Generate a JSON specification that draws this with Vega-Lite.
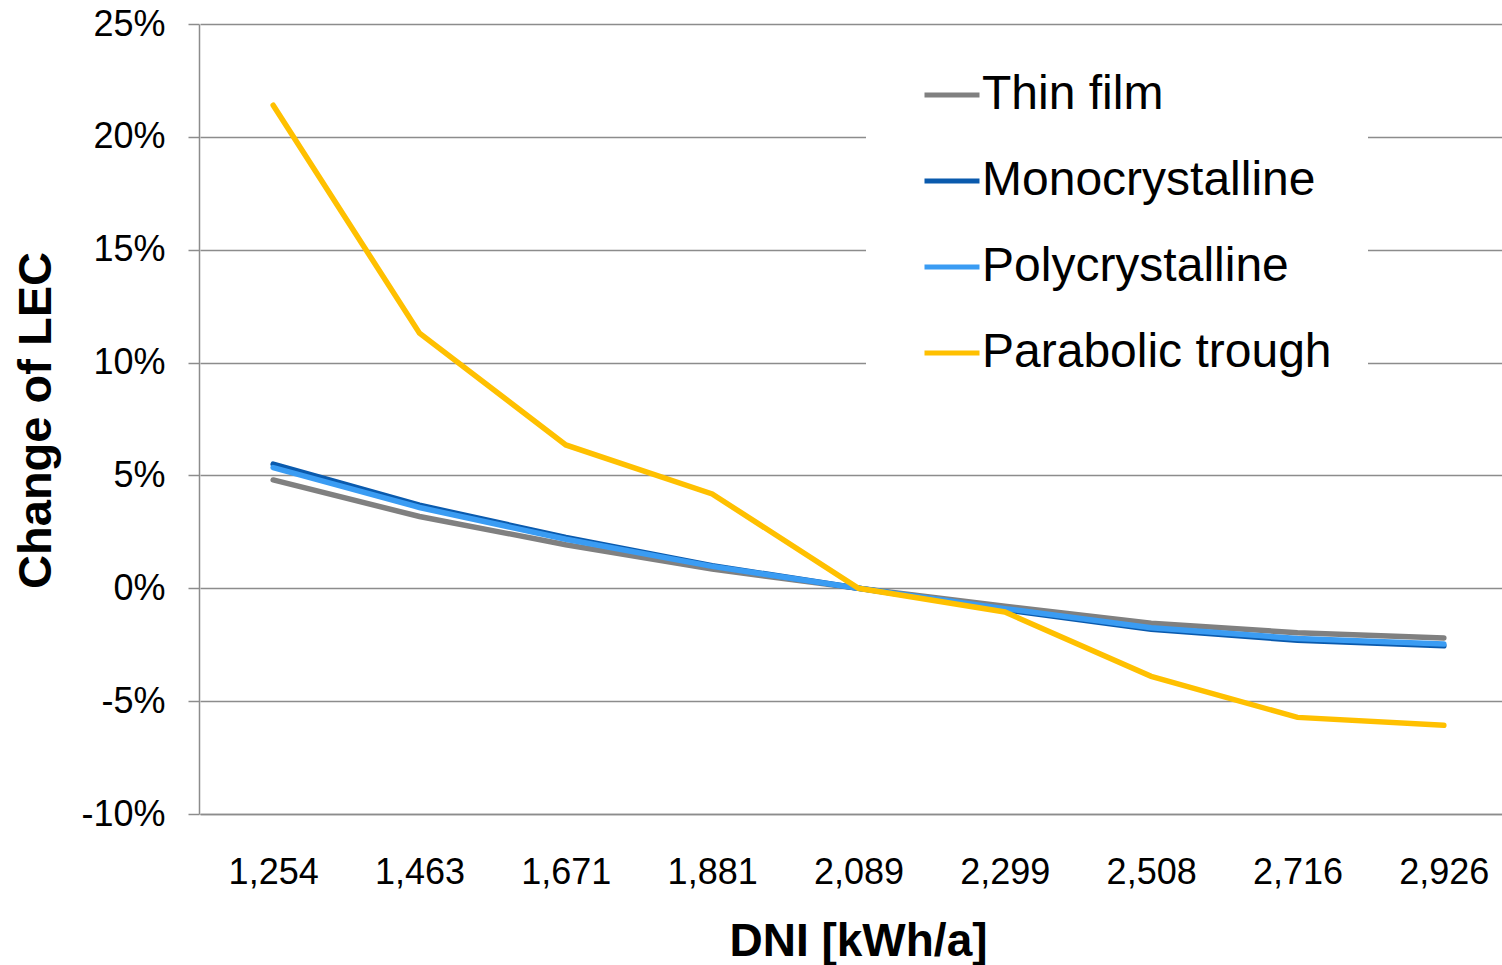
{
  "$schema": "https://vega.github.io/schema/vega-lite/v6.json",
  "autosize": {"type": "none"},
  "width": 1303,
  "height": 790,
  "padding": {"left": 199, "top": 24, "right": 0, "bottom": 151},
  "background": "white",
  "config": {
    "view": {"stroke": null},
    "font": "Liberation Sans"
  },
  "data": {
    "values": [
      {"dni": "1,254", "tech": "Thin film", "change": 0.048},
      {"dni": "1,463", "tech": "Thin film", "change": 0.0318},
      {"dni": "1,671", "tech": "Thin film", "change": 0.0193},
      {"dni": "1,881", "tech": "Thin film", "change": 0.0085},
      {"dni": "2,089", "tech": "Thin film", "change": 0.0},
      {"dni": "2,299", "tech": "Thin film", "change": -0.008},
      {"dni": "2,508", "tech": "Thin film", "change": -0.0155},
      {"dni": "2,716", "tech": "Thin film", "change": -0.0197},
      {"dni": "2,926", "tech": "Thin film", "change": -0.022},
      {"dni": "1,254", "tech": "Monocrystalline", "change": 0.055},
      {"dni": "1,463", "tech": "Monocrystalline", "change": 0.0368},
      {"dni": "1,671", "tech": "Monocrystalline", "change": 0.0225},
      {"dni": "1,881", "tech": "Monocrystalline", "change": 0.01},
      {"dni": "2,089", "tech": "Monocrystalline", "change": 0.0},
      {"dni": "2,299", "tech": "Monocrystalline", "change": -0.0095},
      {"dni": "2,508", "tech": "Monocrystalline", "change": -0.0182},
      {"dni": "2,716", "tech": "Monocrystalline", "change": -0.023},
      {"dni": "2,926", "tech": "Monocrystalline", "change": -0.0255},
      {"dni": "1,254", "tech": "Polycrystalline", "change": 0.0535},
      {"dni": "1,463", "tech": "Polycrystalline", "change": 0.0358},
      {"dni": "1,671", "tech": "Polycrystalline", "change": 0.0217},
      {"dni": "1,881", "tech": "Polycrystalline", "change": 0.0097},
      {"dni": "2,089", "tech": "Polycrystalline", "change": 0.0},
      {"dni": "2,299", "tech": "Polycrystalline", "change": -0.009},
      {"dni": "2,508", "tech": "Polycrystalline", "change": -0.0175},
      {"dni": "2,716", "tech": "Polycrystalline", "change": -0.0222},
      {"dni": "2,926", "tech": "Polycrystalline", "change": -0.0247},
      {"dni": "1,254", "tech": "Parabolic trough", "change": 0.214},
      {"dni": "1,463", "tech": "Parabolic trough", "change": 0.113},
      {"dni": "1,671", "tech": "Parabolic trough", "change": 0.0635},
      {"dni": "1,881", "tech": "Parabolic trough", "change": 0.0418},
      {"dni": "2,089", "tech": "Parabolic trough", "change": 0.0},
      {"dni": "2,299", "tech": "Parabolic trough", "change": -0.0105},
      {"dni": "2,508", "tech": "Parabolic trough", "change": -0.039},
      {"dni": "2,716", "tech": "Parabolic trough", "change": -0.0572},
      {"dni": "2,926", "tech": "Parabolic trough", "change": -0.0607}
    ]
  },
  "mark": {"type": "line", "strokeWidth": 5.5, "strokeCap": "round", "strokeJoin": "miter"},
  "encoding": {
    "x": {
      "field": "dni",
      "type": "ordinal",
      "sort": null,
      "scale": {"type": "point", "padding": 0.5, "range": [1, 1318]},
      "axis": {
        "title": "DNI [kWh/a]",
        "titleFont": "Liberation Sans",
        "titleFontSize": 46,
        "titleFontWeight": "bold",
        "titleColor": "black",
        "titleX": 659,
        "titleY": 141,
        "titleAlign": "center",
        "titleBaseline": "alphabetic",
        "labelFont": "Liberation Sans",
        "labelFontSize": 36,
        "labelColor": "black",
        "labelAngle": 0,
        "labelBaseline": "alphabetic",
        "labelPadding": 69,
        "ticks": false,
        "domain": true,
        "domainColor": "#8c8c8c",
        "domainWidth": 1.5,
        "grid": false
      }
    },
    "y": {
      "field": "change",
      "type": "quantitative",
      "scale": {"domain": [-0.1, 0.25], "nice": false, "zero": false},
      "axis": {
        "title": "Change of LEC",
        "titleFont": "Liberation Sans",
        "titleFontSize": 47,
        "titleFontWeight": "bold",
        "titleColor": "black",
        "titleAngle": -90,
        "titleX": -149,
        "titleY": 396,
        "titleAlign": "center",
        "titleBaseline": "alphabetic",
        "values": [-0.1, -0.05, 0, 0.05, 0.1, 0.15, 0.2, 0.25],
        "labelExpr": "(datum.value < 0 ? '-' : '') + format(abs(datum.value), '.0%')",
        "labelFont": "Liberation Sans",
        "labelFontSize": 36,
        "labelColor": "black",
        "labelPadding": 23,
        "ticks": true,
        "tickSize": 11,
        "tickColor": "#8c8c8c",
        "tickWidth": 1.5,
        "domain": true,
        "domainColor": "#8c8c8c",
        "domainWidth": 1.5,
        "grid": true,
        "gridColor": "#8c8c8c",
        "gridWidth": 1.5,
        "gridOpacity": 1
      }
    },
    "color": {
      "field": "tech",
      "type": "nominal",
      "scale": {
        "domain": ["Thin film", "Monocrystalline", "Polycrystalline", "Parabolic trough"],
        "range": ["#808080", "#0a5aad", "#3a9cf3", "#ffc000"]
      },
      "legend": {
        "title": null,
        "orient": "none",
        "legendX": 667,
        "legendY": 5,
        "fillColor": "white",
        "padding": 36,
        "symbolOffset": 20,
        "symbolType": "stroke",
        "symbolSize": 3025,
        "symbolStrokeWidth": 5,
        "labelFont": "Liberation Sans",
        "labelFontSize": 48,
        "labelColor": "black",
        "labelOffset": 0,
        "labelLimit": 600,
        "rowPadding": 32
      }
    }
  }
}
